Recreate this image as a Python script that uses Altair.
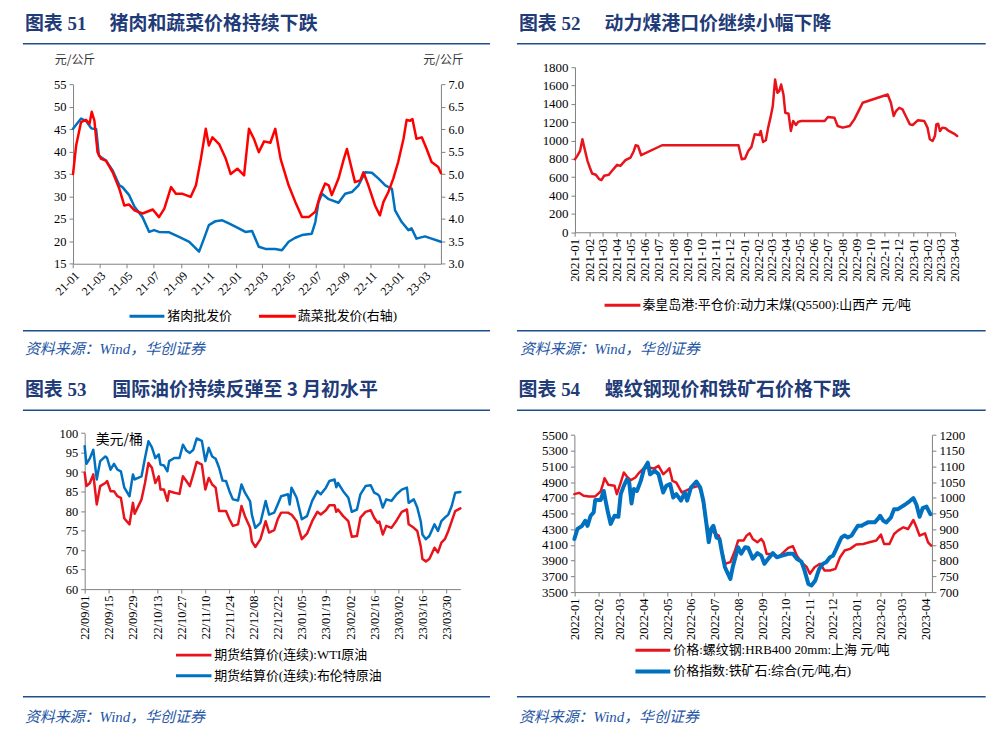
import altair as alt
import pandas as pd

# ---------------- data ----------------
# Panel 51: pork wholesale price (left axis), vegetable wholesale price (right axis)
pork_dates = ["2021-01-01","2021-01-19","2021-01-30","2021-02-11","2021-02-22","2021-02-28","2021-03-16","2021-03-31",
              "2021-04-15","2021-04-22","2021-05-07","2021-05-19","2021-06-06","2021-06-21","2021-07-02","2021-07-13",
              "2021-08-05","2021-08-27","2021-09-19","2021-10-11","2021-10-22","2021-11-02","2021-11-17","2021-12-02",
              "2021-12-17","2022-01-08","2022-01-23","2022-02-07","2022-02-22","2022-03-09","2022-03-31","2022-04-15",
              "2022-04-30","2022-05-15","2022-05-30","2022-06-21","2022-06-29","2022-07-06","2022-07-14","2022-07-29",
              "2022-08-20","2022-09-04","2022-09-19","2022-10-04","2022-10-19","2022-11-03","2022-11-18","2022-12-03",
              "2022-12-18","2022-12-25","2023-01-09","2023-01-24","2023-01-31","2023-02-11","2023-03-02","2023-03-17",
              "2023-04-07"]
pork_vals = [45.1,47.4,46.9,45.2,45.0,39.1,38.0,35.8,32.5,32.1,30.3,27.7,25.4,22.1,22.5,22.1,22.0,21.0,19.9,17.7,
             20.6,23.6,24.5,24.7,24.0,22.9,22.1,22.3,18.8,18.3,18.3,18.0,19.9,20.8,21.4,21.7,24.3,28.7,30.6,29.4,
             28.6,30.6,31.0,32.5,35.4,35.3,34.0,32.5,31.7,26.9,24.3,22.5,22.9,20.6,21.1,20.6,19.9]
veg_dates = ["2021-01-01","2021-01-08","2021-01-19","2021-01-30","2021-02-07","2021-02-12","2021-02-18","2021-02-25",
             "2021-03-05","2021-03-16","2021-03-31","2021-04-15","2021-04-26","2021-05-07","2021-05-19","2021-06-06",
             "2021-06-29","2021-07-13","2021-07-25","2021-08-09","2021-08-20","2021-09-04","2021-09-22","2021-10-04",
             "2021-10-15","2021-10-26","2021-11-02","2021-11-10","2021-11-25","2021-12-10","2021-12-21","2022-01-05",
             "2022-01-20","2022-01-31","2022-02-11","2022-02-22","2022-03-06","2022-03-20","2022-03-31","2022-04-12",
             "2022-04-30","2022-05-15","2022-05-30","2022-06-14","2022-06-29","2022-07-10","2022-07-21","2022-07-29",
             "2022-08-05","2022-08-20","2022-09-01","2022-09-08","2022-09-15","2022-09-26","2022-10-08","2022-10-15",
             "2022-10-26","2022-11-10","2022-11-21","2022-11-29","2022-12-10","2022-12-21","2023-01-01","2023-01-13",
             "2023-01-20","2023-01-28","2023-02-02","2023-02-11","2023-02-23","2023-03-06","2023-03-17","2023-04-01",
             "2023-04-07"]
veg_vals = [5.00,5.64,6.16,6.21,6.12,6.39,6.19,5.49,5.34,5.30,5.04,4.67,4.30,4.32,4.19,4.12,4.21,4.04,4.23,4.71,
            4.56,4.56,4.49,4.75,5.34,6.01,5.64,5.82,5.67,5.34,5.00,5.12,4.97,6.01,5.79,5.49,5.73,5.70,6.01,5.34,
            4.75,4.38,4.04,4.04,4.16,4.53,4.79,4.75,4.53,4.90,5.34,5.56,5.27,4.82,4.86,5.04,4.75,4.30,4.08,4.38,
            4.60,4.90,5.27,5.79,6.21,6.19,6.23,5.79,5.82,5.56,5.27,5.16,5.02]
p1_ticks = ["2021-01","2021-03","2021-05","2021-07","2021-09","2021-11","2022-01","2022-03","2022-05","2022-07",
            "2022-09","2022-11","2023-01","2023-03"]
p1_left_ticks = [15, 20, 25, 30, 35, 40, 45, 50, 55]
p1_right_ticks = [3.0, 3.5, 4.0, 4.5, 5.0, 5.5, 6.0, 6.5, 7.0]

# Panel 52: Qinhuangdao thermal coal price
coal_dates = ["2021-01-01","2021-01-06","2021-01-12","2021-01-17","2021-01-22","2021-01-28","2021-02-02","2021-02-07",
              "2021-02-15","2021-02-22","2021-02-27","2021-03-05","2021-03-15","2021-03-22","2021-04-02","2021-04-09",
              "2021-04-20","2021-05-01","2021-05-08","2021-05-12","2021-05-17","2021-05-24","2021-07-08","2021-12-20",
              "2021-12-27","2022-01-03","2022-01-10","2022-01-17","2022-01-24","2022-02-03","2022-02-06","2022-02-11",
              "2022-02-17","2022-02-22","2022-02-27","2022-03-04","2022-03-09","2022-03-14","2022-03-18","2022-03-22",
              "2022-03-27","2022-03-31","2022-04-07","2022-04-12","2022-04-17","2022-04-23","2022-04-28","2022-05-05",
              "2022-06-24","2022-07-01","2022-07-15","2022-07-22","2022-08-02","2022-08-17","2022-08-27","2022-09-07",
              "2022-09-14","2022-11-07","2022-11-14","2022-11-20","2022-11-25","2022-12-02","2022-12-09","2022-12-16",
              "2022-12-25","2022-12-31","2023-01-11","2023-01-25","2023-02-01","2023-02-06","2023-02-12","2023-02-17",
              "2023-02-20","2023-02-24","2023-02-28","2023-03-05","2023-03-12","2023-03-19","2023-03-30","2023-04-06"]
coal_vals = [797,833,887,1014,905,779,706,641,627,580,569,616,627,670,735,724,786,815,887,949,942,840,949,949,
             797,804,887,931,1069,1061,1105,985,1003,1141,1250,1376,1666,1521,1539,1612,1503,1304,1293,1105,1213,1170,
             1206,1213,1213,1257,1250,1159,1141,1159,1231,1340,1413,1503,1413,1268,1322,1358,1340,1268,1177,1170,
             1221,1213,1141,1014,996,1050,1177,1184,1105,1141,1134,1105,1076,1050]
p2_ticks = ["2021-01","2021-02","2021-03","2021-04","2021-05","2021-06","2021-07","2021-08","2021-09","2021-10",
            "2021-11","2021-12","2022-01","2022-02","2022-03","2022-04","2022-05","2022-06","2022-07","2022-08",
            "2022-09","2022-10","2022-11","2022-12","2023-01","2023-02","2023-03","2023-04"]
p2_y_ticks = [0, 200, 400, 600, 800, 1000, 1200, 1400, 1600, 1800]

# Panel 53: WTI and Brent futures settlement prices
oil_dates = ["2022-09-01","2022-09-02","2022-09-04","2022-09-06","2022-09-08","2022-09-10","2022-09-13","2022-09-14",
             "2022-09-16","2022-09-18","2022-09-20","2022-09-22","2022-09-24","2022-09-27","2022-09-29","2022-09-30",
             "2022-10-04","2022-10-06","2022-10-08","2022-10-10","2022-10-12","2022-10-14","2022-10-15","2022-10-17",
             "2022-10-19","2022-10-20","2022-10-23","2022-10-26","2022-10-28","2022-10-30","2022-11-01","2022-11-03",
             "2022-11-05","2022-11-08","2022-11-10","2022-11-12","2022-11-14","2022-11-16","2022-11-18","2022-11-20",
             "2022-11-22","2022-11-24","2022-11-26","2022-11-29","2022-12-01","2022-12-03","2022-12-06","2022-12-07",
             "2022-12-09","2022-12-12","2022-12-15","2022-12-17","2022-12-20","2022-12-22","2022-12-24","2022-12-28",
             "2022-12-29","2022-12-30","2023-01-02","2023-01-05","2023-01-08","2023-01-11","2023-01-14","2023-01-16",
             "2023-01-19","2023-01-21","2023-01-24","2023-01-25","2023-01-26","2023-01-29","2023-02-01","2023-02-03",
             "2023-02-06","2023-02-08","2023-02-11","2023-02-14","2023-02-16","2023-02-18","2023-02-19","2023-02-21",
             "2023-02-23","2023-02-26","2023-03-01","2023-03-04","2023-03-07","2023-03-08","2023-03-11","2023-03-13",
             "2023-03-15","2023-03-16","2023-03-18","2023-03-20","2023-03-23","2023-03-25","2023-03-27","2023-03-29",
             "2023-03-31","2023-04-02","2023-04-04","2023-04-07"]
brent_vals = [96.6,92.1,93.5,95.7,88.1,92.8,94.0,93.6,90.6,92.1,90.6,90.2,86.0,83.8,89.4,88.1,88.9,93.6,97.9,96.3,
              93.6,94.5,91.9,91.7,90.2,92.8,93.6,93.6,97.0,95.5,94.9,95.7,98.6,98.0,92.8,96.2,94.0,93.4,91.1,87.8,
              87.7,85.1,83.0,82.7,86.8,84.7,82.5,79.1,75.7,77.0,82.6,79.1,79.6,81.7,83.8,84.3,81.7,86.0,83.4,77.9,
              78.7,82.6,85.1,84.3,86.0,87.7,88.1,86.1,87.2,85.1,83.4,79.8,80.4,84.3,86.4,86.6,84.7,84.3,83.8,80.9,
              83.0,82.6,84.3,85.5,86.0,82.1,83.0,80.9,77.4,74.0,72.8,73.6,76.6,74.9,77.4,78.3,79.1,81.3,84.7,84.9]
wti_vals = [89.8,86.4,87.2,89.4,81.7,86.4,87.2,87.7,85.1,85.1,83.8,83.4,78.1,76.6,82.1,79.3,83.0,87.2,92.3,91.1,
            87.2,88.9,85.5,85.5,82.6,85.1,84.7,84.4,88.9,87.7,86.4,89.4,92.6,91.9,85.5,88.5,86.8,86.0,80.0,80.0,
            80.0,77.9,76.2,76.6,81.3,78.7,75.7,72.3,70.8,72.8,77.4,74.5,75.1,77.9,79.6,79.6,79.3,79.1,77.4,72.8,
            74.2,77.4,79.8,79.1,80.2,81.5,81.5,79.8,80.4,78.7,77.4,73.4,73.6,78.3,79.8,80.2,78.3,77.0,77.3,74.0,
            76.2,75.7,77.6,79.8,80.4,76.6,75.7,74.9,71.0,67.7,67.1,67.7,70.6,69.4,71.9,72.8,74.9,77.4,80.0,80.7]
p3_ticks = ["2022-09-01","2022-09-15","2022-09-29","2022-10-13","2022-10-27","2022-11-10","2022-11-24","2022-12-08",
            "2022-12-22","2023-01-05","2023-01-19","2023-02-02","2023-02-16","2023-03-02","2023-03-16","2023-03-30"]
p3_y_ticks = [60, 65, 70, 75, 80, 85, 90, 95, 100]

# Panel 54: rebar spot price (left axis) and iron ore price index (right axis)
rebar_dates = ["2022-01-01","2022-01-07","2022-01-13","2022-01-20","2022-01-28","2022-02-04","2022-02-07","2022-02-09",
               "2022-02-14","2022-02-22","2022-02-25","2022-03-02","2022-03-06","2022-03-11","2022-03-15","2022-03-21",
               "2022-03-26","2022-04-01","2022-04-07","2022-04-14","2022-04-20","2022-04-26","2022-05-01","2022-05-04",
               "2022-05-08","2022-05-13","2022-05-20","2022-05-27","2022-06-03","2022-06-11","2022-06-15","2022-06-20",
               "2022-06-24","2022-06-28","2022-07-03","2022-07-07","2022-07-11","2022-07-15","2022-07-22","2022-07-28",
               "2022-08-01","2022-08-08","2022-08-12","2022-08-16","2022-08-20","2022-08-26","2022-08-31","2022-09-03",
               "2022-09-07","2022-09-16","2022-09-22","2022-09-29","2022-10-05","2022-10-11","2022-10-16","2022-10-22",
               "2022-10-29","2022-11-02","2022-11-08","2022-11-15","2022-11-21","2022-11-28","2022-12-05","2022-12-11",
               "2022-12-17","2022-12-24","2023-01-01","2023-01-10","2023-01-18","2023-01-27","2023-02-02","2023-02-06",
               "2023-02-13","2023-02-19","2023-02-24","2023-03-03","2023-03-09","2023-03-16","2023-03-20","2023-03-24",
               "2023-03-31","2023-04-04","2023-04-08"]
rebar_vals = [4747,4764,4726,4718,4718,4781,4874,4950,4866,4853,4747,4895,5022,4959,4925,4959,5022,5077,5086,5073,
              5107,5001,5043,5077,4916,4895,4769,4798,4832,4853,4747,4430,4240,4282,4240,4219,4029,3860,3881,4029,
              4156,4156,4219,4249,4177,4134,4177,4134,3986,3986,3944,4008,4062,4084,3965,3881,3817,3733,3817,3860,
              3775,3775,3796,3944,4029,4050,4105,4113,4134,4156,4232,4113,4113,4240,4282,4325,4303,4418,4325,4219,
              4249,4134,4092]
ore_dates = ["2022-01-01","2022-01-05","2022-01-11","2022-01-15","2022-01-18","2022-01-22","2022-01-26","2022-01-28",
             "2022-02-04","2022-02-08","2022-02-10","2022-02-13","2022-02-17","2022-02-22","2022-02-27","2022-03-02",
             "2022-03-06","2022-03-10","2022-03-13","2022-03-16","2022-03-19","2022-03-23","2022-03-28","2022-04-01",
             "2022-04-06","2022-04-09","2022-04-15","2022-04-20","2022-04-26","2022-04-30","2022-05-05","2022-05-09",
             "2022-05-13","2022-05-19","2022-05-24","2022-05-27","2022-06-01","2022-06-08","2022-06-13","2022-06-17",
             "2022-06-21","2022-06-24","2022-06-27","2022-06-30","2022-07-04","2022-07-08","2022-07-11","2022-07-15",
             "2022-07-18","2022-07-22","2022-07-25","2022-07-29","2022-08-01","2022-08-05","2022-08-10","2022-08-14",
             "2022-08-20","2022-08-26","2022-08-31","2022-09-04","2022-09-09","2022-09-15","2022-09-20","2022-09-27",
             "2022-10-05","2022-10-11","2022-10-16","2022-10-22","2022-10-26","2022-10-31","2022-11-04","2022-11-09",
             "2022-11-14","2022-11-19","2022-11-23","2022-11-28","2022-12-02","2022-12-06","2022-12-10","2022-12-13",
             "2022-12-17","2022-12-21","2022-12-26","2022-12-30","2023-01-03","2023-01-08","2023-01-12","2023-01-16",
             "2023-01-20","2023-01-25","2023-01-29","2023-02-01","2023-02-05","2023-02-09","2023-02-15","2023-02-19",
             "2023-02-24","2023-03-01","2023-03-05","2023-03-11","2023-03-16","2023-03-20","2023-03-24","2023-03-28",
             "2023-04-02","2023-04-07"]
ore_vals = [869,901,911,927,911,943,954,993,993,1022,996,959,917,943,940,1012,1038,1059,1049,982,1028,1022,1054,1091,
            1112,1075,1086,1075,1017,1038,1044,1001,1012,991,1017,991,1033,1052,1033,991,917,859,901,911,874,869,
            827,779,763,742,779,816,843,822,843,841,806,824,816,790,806,824,811,816,822,822,806,797,769,726,
            721,737,774,790,795,811,816,837,859,874,880,874,880,896,911,911,917,922,922,922,933,943,927,922,
            938,964,964,972,978,989,999,978,940,967,972,948]
p4_ticks = ["2022-01","2022-02","2022-03","2022-04","2022-05","2022-06","2022-07","2022-08","2022-09","2022-10",
            "2022-11","2022-12","2023-01","2023-02","2023-03","2023-04"]
p4_left_ticks = [3500, 3700, 3900, 4100, 4300, 4500, 4700, 4900, 5100, 5300, 5500]
p4_right_ticks = [700, 750, 800, 850, 900, 950, 1000, 1050, 1100, 1150, 1200]

# ---------------- styling ----------------
SERIF = "Liberation Serif, Noto Sans CJK SC"
CJK = "Noto Sans CJK SC"
NAVY = "#1F3C78"
RULE = "#1F4E8C"
SRC = "#2455A4"
RED1 = "#FF0000"
RED = "#E8141C"
BLUE = "#0070C0"
AX = "#808080"
W, H = 492, 360
ONE = pd.DataFrame({"k": [0]})
SOURCE = "资料来源：Wind，华创证券"


def dt(s):
    parts = [int(p) for p in s.split("-")]
    d = parts[2] if len(parts) > 2 else 1
    return alt.DateTime(year=parts[0], month=parts[1], date=d, utc=True)


def txt(s, x, y, size=13, color="#000000", font=SERIF, weight="normal", style="normal"):
    return alt.Chart(ONE).mark_text(text=s, fontSize=size, color=color, font=font, fontWeight=weight,
                                    fontStyle=style, align="left", baseline="middle").encode(
        x=alt.value(x), y=alt.value(y))


def hline(x1, x2, y, color=RULE, width=1.5):
    return alt.Chart(ONE).mark_rule(color=color, strokeWidth=width).encode(
        x=alt.value(x1), x2=alt.value(x2), y=alt.value(y))


def frame(num, title, xnum, xtitle, ty, r1, r2, rx1, rx2, sx, sy):
    return [txt("图表 " + num, xnum, ty, 19, NAVY, SERIF, "bold"),
            txt(title, xtitle, ty, 19, NAVY, CJK, "bold"),
            hline(rx1, rx2, r1), hline(rx1, rx2, r2),
            txt(SOURCE, sx, sy, 15, SRC, SERIF, "normal", "italic")]


def xaxis(ticks, fmt, angle, offset, size):
    return alt.Axis(values=[dt(t) for t in ticks], labelExpr="utcFormat(datum.value, '%s')" % fmt,
                    labelAngle=angle, offset=offset, labelFlush=False, labelOverlap=False,
                    labelFont="Liberation Serif", labelFontSize=size, labelColor="#000000",
                    domainColor=AX, tickColor=AX, tickSize=4, labelPadding=2, grid=False, title=None)


def yaxis(ticks, orient, offset, fmt, size):
    return alt.Axis(values=ticks, orient=orient, offset=offset, format=fmt, labelFont="Liberation Serif",
                    labelFontSize=size, labelColor="#000000", domainColor=AX, tickColor=AX, tickSize=4,
                    labelPadding=3, grid=False, title=None)


def series(dates, vals, color, width, xs, xa, ys, ya):
    df = pd.DataFrame({"d": dates, "v": vals})
    return alt.Chart(df).mark_line(color=color, strokeWidth=width, strokeJoin="round", strokeCap="round").encode(
        x=alt.X("d:T", scale=xs, axis=xa, title=None),
        y=alt.Y("v:Q", scale=ys, axis=ya, title=None))


# ---------------- panel 51 ----------------
x1s = alt.Scale(type="utc", domain=[dt("2021-01-01"), dt("2023-04-07")], range=[65.3, 434.7])
x1a = xaxis(p1_ticks, "%y-%m", -45, 255.3 - H, 12)
y1l = alt.Scale(domain=[15, 55], range=[255.3, 75.3], nice=False, zero=False)
y1r = alt.Scale(domain=[3, 7], range=[255.3, 75.3], nice=False, zero=False)
p1 = alt.layer(
    series(pork_dates, pork_vals, BLUE, 2.5, x1s, x1a, y1l, yaxis(p1_left_ticks, "left", -65.3, "d", 12.5)),
    series(veg_dates, veg_vals, RED1, 2.5, x1s, x1a, y1r, yaxis(p1_right_ticks, "right", 434.7 - W, ".1f", 12.5)),
    *frame("51", "猪肉和蔬菜价格持续下跌", 17, 102, 15, 34.5, 322.7, 15, 484, 17, 341),
    txt("元/公斤", 47, 51, 12, "#333333", CJK),
    txt("元/公斤", 417, 51, 12, "#333333", CJK),
    hline(122, 157, 308, BLUE, 3), txt("猪肉批发价", 160, 308, 13),
    hline(252, 289, 308, RED1, 3), txt("蔬菜批发价(右轴)", 291, 308, 13),
).resolve_scale(y="independent").properties(width=W, height=H)

# ---------------- panel 52 ----------------
x2s = alt.Scale(type="utc", domain=[dt("2021-01-01"), dt("2023-04-01")], range=[77.3, 458.7])
x2a = xaxis(p2_ticks, "%Y-%m", -90, 223.7 - H, 13)
y2s = alt.Scale(domain=[0, 1800], range=[223.7, 58], nice=False, zero=False)
p2 = alt.layer(
    series(coal_dates, coal_vals, RED, 2.5, x2s, x2a, y2s, yaxis(p2_y_ticks, "left", -77.3, "d", 13)),
    *frame("52", "动力煤港口价继续小幅下降", 21, 107, 15, 34.5, 322.7, 19, 489.7, 22, 341),
    hline(107, 143, 297, RED, 3),
    txt("秦皇岛港:平仓价:动力末煤(Q5500):山西产 元/吨", 145, 297, 13),
).properties(width=W, height=H)

# ---------------- panel 53 ----------------
x3s = alt.Scale(type="utc", domain=[dt("2022-09-01"), dt("2023-04-07")], range=[77, 454.2])
x3a = xaxis(p3_ticks, "%y/%m/%d", -90, 222 - H, 12.5)
y3s = alt.Scale(domain=[60, 100], range=[222, 65.3], nice=False, zero=False)
y3a = yaxis(p3_y_ticks, "left", -77, "d", 12.5)
p3 = alt.layer(
    series(oil_dates, brent_vals, BLUE, 2.5, x3s, x3a, y3s, y3a),
    series(oil_dates, wti_vals, RED, 2.5, x3s, x3a, y3s, y3a),
    *frame("53", "国际油价持续反弹至 3 月初水平", 17, 104.7, 22.3, 42.3, 330, 15, 484, 17, 350.7),
    txt("美元/桶", 88, 72, 14, "#000000", CJK),
    hline(168.7, 204.3, 288.3, RED, 3), txt("期货结算价(连续):WTI原油", 207, 288.3, 13),
    hline(168.7, 204.3, 309, BLUE, 3), txt("期货结算价(连续):布伦特原油", 207, 309, 13),
).properties(width=W, height=H)

# ---------------- panel 54 ----------------
x4s = alt.Scale(type="utc", domain=[dt("2022-01-01"), dt("2023-04-09")], range=[76.7, 435.7])
x4a = xaxis(p4_ticks, "%Y-%m", -90, 225 - H, 12.5)
y4l = alt.Scale(domain=[3500, 5500], range=[225, 67.3], nice=False, zero=False)
y4r = alt.Scale(domain=[700, 1200], range=[225, 67.3], nice=False, zero=False)
p4 = alt.layer(
    series(rebar_dates, rebar_vals, RED, 2.5, x4s, x4a, y4l, yaxis(p4_left_ticks, "left", -76.7, "d", 13)),
    series(ore_dates, ore_vals, BLUE, 4, x4s, x4a, y4r, yaxis(p4_right_ticks, "right", 435.7 - W, "d", 13)),
    *frame("54", "螺纹钢现价和铁矿石价格下跌", 20.7, 107.3, 22.3, 42.3, 330, 19, 489.7, 21, 350.7),
    hline(138, 173, 283.3, RED, 3), txt("价格:螺纹钢:HRB400 20mm:上海 元/吨", 176, 283.3, 13),
    hline(138, 173, 304.7, BLUE, 4), txt("价格指数:铁矿石:综合(元/吨,右)", 176, 304.7, 13),
).resolve_scale(y="independent").properties(width=W, height=H)

chart = alt.concat(p1, p2, p3, p4, columns=2, spacing=0, bounds="flush").properties(
    padding=0, background="white").configure_view(stroke=None)

chart.save("out.html", embed_options={"renderer": "svg", "actions": False})
